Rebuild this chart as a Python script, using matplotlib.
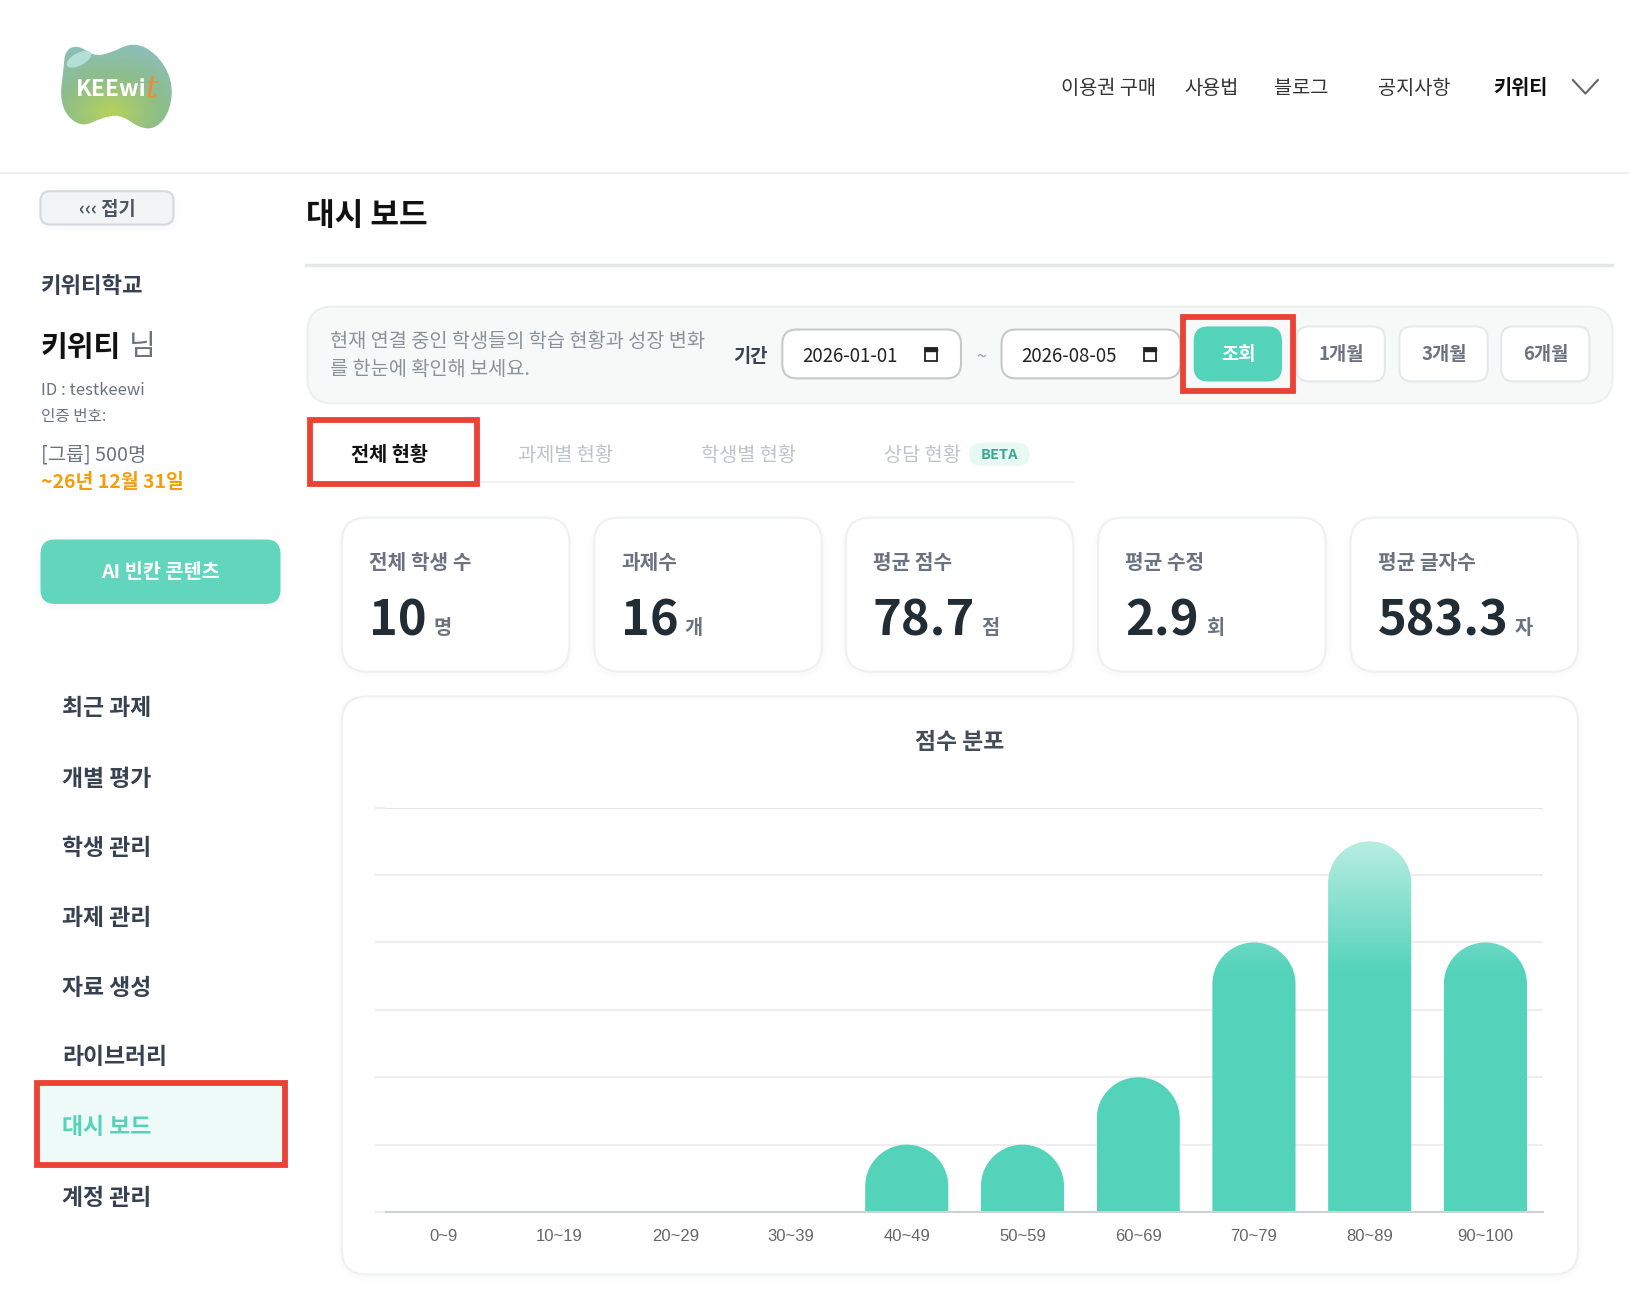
import numpy as np
import matplotlib
matplotlib.use("Agg")
import matplotlib.pyplot as plt
from matplotlib.patches import FancyBboxPatch, PathPatch, Ellipse, Rectangle
from matplotlib.path import Path
from matplotlib.colors import LinearSegmentedColormap

plt.rcParams['font.family'] = ['Noto Sans CJK KR', 'DejaVu Sans']

#----------------- datos -----------------
rangos = ["0~9", "10~19", "20~29", "30~39", "40~49", "50~59", "60~69", "70~79", "80~89", "90~100"]
cantidad = [0, 0, 0, 0, 1, 1, 2, 4, 5.5, 4]

menu = ["최근 과제", "개별 평가", "학생 관리", "과제 관리", "자료 생성", "라이브러리", "대시 보드", "계정 관리"]
nav = ["이용권 구매", "사용법", "블로그", "공지사항"]
tarjetas = ["전체 학생 수", "과제수", "평균 점수", "평균 수정", "평균 글자수"]
valores = ["10", "16", "78.7", "2.9", "583.3"]
unidades = ["명", "개", "점", "회", "자"]
periodos = ["1개월", "3개월", "6개월"]
pestanas = ["과제별 현황", "학생별 현황", "상담 현황"]

VERDE = "#54d3bb"
ROJO = "#ea4335"
ANCHO, ALTO = 1568, 1241
ESCALA = 1629 / ANCHO


def pt(px):
    return px * ESCALA * 0.72


fig = plt.figure(figsize=(16.29, 12.90), dpi=100)
fondo = fig.add_axes([0, 0, 1, 1])
fondo.set_xlim(0, ANCHO)
fondo.set_ylim(ALTO, 0)
fondo.axis("off")


def caja(x0, y0, x1, y1, r, color="white", borde="none", lw=1.5, sombra=False, z=2):
    if sombra:
        for i in range(1, 6):
            fondo.add_patch(FancyBboxPatch((x0 - i, y0 + 2 - i), x1 - x0 + 2 * i, y1 - y0 + 2 * i,
                                           boxstyle="round,pad=0,rounding_size=%d" % (r + i),
                                           fc="#000000", ec="none", alpha=0.005, zorder=z))
    fondo.add_patch(FancyBboxPatch((x0, y0), x1 - x0, y1 - y0,
                                   boxstyle="round,pad=0,rounding_size=%d" % r,
                                   fc=color, ec=borde, lw=lw, zorder=z))


def texto(x, y, s, px, color="#333333", peso="normal", ha="left", va="center", **kw):
    if va == "center":
        y = y + 1.5
    return fondo.text(x, y, s, fontsize=pt(px), color=color, fontweight=peso, ha=ha, va=va, zorder=5, **kw)


def marco(x0, y0, x1, y1):
    fondo.add_patch(Rectangle((x0, y0), x1 - x0, y1 - y0, fc="none", ec=ROJO, lw=4.2, zorder=6))


def calendario(x, y):
    fondo.add_patch(Rectangle((x - 6, y - 6), 12, 12, fc="white", ec="#222222", lw=1.3, zorder=5))
    fondo.add_patch(Rectangle((x - 6, y - 6), 12, 3, fc="#222222", ec="#222222", lw=1, zorder=5))


#----------------- logo -----------------
puntos = np.array([(190, 215), (195, 150), (235, 135), (280, 168), (330, 160), (400, 125), (470, 160),
                   (518, 240), (512, 330), (470, 385), (420, 385), (360, 342), (300, 355),
                   (250, 380), (200, 350), (180, 290)]) / 3 / ESCALA
medios = (puntos + np.roll(puntos, -1, axis=0)) / 2
vert = [medios[-1]]
cod = [Path.MOVETO]
for p, m in zip(puntos, medios):
    vert += [p, m]
    cod += [Path.CURVE3, Path.CURVE3]
silueta = PathPatch(Path(vert, cod), fc="none", ec="none", transform=fondo.transData)
fondo.add_patch(silueta)
xx, yy = np.meshgrid(np.linspace(0, 1, 80), np.linspace(0, 1, 80))
dist = np.clip(np.hypot(xx - 0.45, (yy - 0.78) * 1.1) / 0.85, 0, 1)
mapa_logo = LinearSegmentedColormap.from_list("logo", ["#b6d25c", "#8dbd8a", "#8cbfc0"])
im = fondo.imshow(dist, cmap=mapa_logo, extent=(55, 170, 128, 38), aspect="auto", zorder=3, vmin=0, vmax=1)
im.set_clip_path(silueta)
fondo.set_xlim(0, ANCHO)
fondo.set_ylim(ALTO, 0)
fondo.add_patch(Ellipse((76, 57), 26, 12, angle=-28, fc="#b4dfd6", ec="none", zorder=4))
texto(73, 85, "KEEwi", 22, "white", "bold")
texto(140, 85, "t", 30, "#ee8a3a", "normal", family="DejaVu Serif", style="italic")

#----------------- cabecera -----------------
fondo.plot([0, ANCHO], [166, 166], color="#eeeeee", lw=1.5, zorder=1)
for x, s in zip([1021, 1140, 1226, 1326], nav):
    texto(x, 84, s, 19, "#333333", "medium")
texto(1437, 84, "키위티", 19, "#111111", "bold")
fondo.plot([1514, 1526, 1538], [77, 90, 77], color="#666666", lw=1.5, zorder=5)

#----------------- barra lateral -----------------
caja(39, 184, 167, 216, 9, "#f3f4f6", "#d5d8de", sombra=True)
texto(103, 200, "‹‹‹ 접기", 18, "#4b5563", "bold", ha="center", family=["Noto Sans CJK KR", "DejaVu Sans"])
texto(39, 274, "키위티학교", 21.5, "#374151", "bold")
texto(39, 332, "키위티", 28, "#111111", "bold")
texto(124, 332, "님", 28, "#6b7280", "medium")
texto(39, 374, "ID : testkeewi", 16, "#6b7280")
texto(39, 399, "인증 번호:", 15, "#6b7280")
texto(39, 436, "[그룹] 500명", 19, "#6b7280", "medium")
texto(39, 463, "~26년 12월 31일", 18.7, "#f59e0b", "bold")
caja(39, 519, 270, 581, 14, "#62d6bc", sombra=True)
texto(154, 549, "AI 빈칸 콘텐츠", 19, "white", "bold", ha="center")

fondo.add_patch(Rectangle((38, 1045), 233, 74, fc="#edfaf7", ec="none", zorder=2))
for y, s in zip([680, 748, 815, 882, 949, 1016, 1083, 1151], menu):
    activo = s == "대시 보드"
    texto(60, y, s, 22, VERDE if activo else "#374151", "bold")
marco(36, 1042, 274, 1121)

#----------------- titulo y filtro -----------------
texto(295, 206, "대시 보드", 30, "#111111", "bold")
fondo.plot([295, 1552], [255, 255], color="#e5e7eb", lw=2.5, zorder=1)

caja(296, 295, 1552, 388, 24, "#f7f9f9", "#eceff1")
texto(318, 327, "현재 연결 중인 학생들의 학습 현황과 성장 변화", 19, "#8a9299")
texto(318, 354, "를 한눈에 확인해 보세요.", 19, "#8a9299")
texto(706, 341, "기간", 18, "#374151", "bold")
caja(753, 317, 925, 364, 14, "white", "#c8c8c8")
texto(772, 341, "2026-01-01", 18, "#222222")
calendario(896, 341)
texto(944, 342, "~", 17, "#9aa0a6", ha="center")
caja(964, 317, 1136, 364, 14, "white", "#c8c8c8")
texto(983, 341, "2026-08-05", 18, "#222222")
calendario(1107, 341)
caja(1149, 314, 1234, 367, 14, VERDE)
texto(1192, 340, "조회", 18, "white", "bold", ha="center")
marco(1139, 305, 1245, 376)
for x0, s in zip([1248, 1347, 1445], periodos):
    caja(x0, 314, x0 + 85, 367, 12, "white", "#e5e7eb")
    texto(x0 + 43, 340, s, 18, "#6b7280", "bold", ha="center")

#----------------- pestanas -----------------
fondo.plot([296, 1033], [464, 464], color="#f0f1f3", lw=1.5, zorder=1)
texto(375, 437, "전체 현황", 19, "#111111", "bold", ha="center")
marco(298, 404, 459, 466)
for x, s in zip([544, 720, 888], pestanas):
    texto(x, 437, s, 19, "#bfc3c8", "medium", ha="center")
caja(933, 426, 991, 448, 11, "#e8f8f5")
texto(962, 436, "BETA", 14, "#3aa88f", "bold", ha="center")

#----------------- tarjetas -----------------
x_tarjeta = [329, 572, 814, 1057, 1300]
x_unidad = [417, 659, 945, 1161, 1458]
for x0, et, val, un, xu in zip(x_tarjeta, tarjetas, valores, unidades, x_unidad):
    caja(x0, 498, x0 + 219, 646, 24, "white", "#eef0f3", sombra=True)
    texto(x0 + 26, 540, et, 19.5, "#6b7280", "bold")
    texto(x0 + 26, 611, val, 47, "#222c35", "bold", va="baseline")
    texto(xu, 610, un, 19, "#6b7280", "bold", va="baseline")

#----------------- grafica -----------------
caja(329, 670, 1519, 1226, 24, "white", "#eef0f3", sombra=True)
texto(924, 713, "점수 분포", 22, "#444c55", "bold", ha="center")

arriba, abajo = 777, 1166
ax = fig.add_axes([371.5 / ANCHO, 1 - abajo / ALTO, (1485.5 - 371.5) / ANCHO, (abajo - arriba) / ALTO])
ax.patch.set_alpha(0)
ax.set_zorder(3)
pos = np.arange(len(rangos))
ax.set_xlim(-0.5, 9.5)
ax.set_ylim(0, 6)
ax.set_yticks(range(7))
ax.set_yticklabels([])
ax.set_xticks(pos)
ax.set_xticklabels(rangos, fontsize=pt(16), color="#666666", family="Liberation Sans")
ax.tick_params(axis="x", length=0, pad=pt(16))
ax.tick_params(axis="y", length=pt(11), width=1.5, color="#eeeeee")
ax.grid(axis="y", color="#eeeeee", lw=1.5)
ax.get_ygridlines()[-1].set_color("#e3e5e7")
ax.set_axisbelow(True)
for lado in ["top", "right", "left"]:
    ax.spines[lado].set_visible(False)
ax.spines["bottom"].set_color("#cfd1d4")
ax.spines["bottom"].set_linewidth(1.5)

# barras con la punta redonda y el degradado de arriba
ancho = 80 / (1114 / 10)
ry = 40 / ((abajo - arriba) / 6)
rx = ancho / 2
k = 0.5523
mapa = LinearSegmentedColormap.from_list("barra", ["#b8ede1", VERDE])
y_tope = max(cantidad)
y_solido = 3.56
grad = np.clip((y_tope - np.linspace(y_tope, 0, 300)) / (y_tope - y_solido), 0, 1).reshape(-1, 1)
for x, v in zip(pos, cantidad):
    if v == 0:
        continue
    vert = [(x - rx, 0), (x - rx, v - ry),
            (x - rx, v - ry + k * ry), (x - k * rx, v), (x, v),
            (x + k * rx, v), (x + rx, v - ry + k * ry), (x + rx, v - ry),
            (x + rx, 0), (x - rx, 0)]
    cod = [Path.MOVETO, Path.LINETO, Path.CURVE4, Path.CURVE4, Path.CURVE4,
           Path.CURVE4, Path.CURVE4, Path.CURVE4, Path.LINETO, Path.CLOSEPOLY]
    barra = PathPatch(Path(vert, cod), fc="none", ec="none", transform=ax.transData)
    ax.add_patch(barra)
    im = ax.imshow(grad, cmap=mapa, extent=(x - rx, x + rx, 0, y_tope), aspect="auto",
                   zorder=2, vmin=0, vmax=1)
    im.set_clip_path(barra)
ax.set_xlim(-0.5, 9.5)
ax.set_ylim(0, 6)

plt.savefig("out.png", dpi=100)
